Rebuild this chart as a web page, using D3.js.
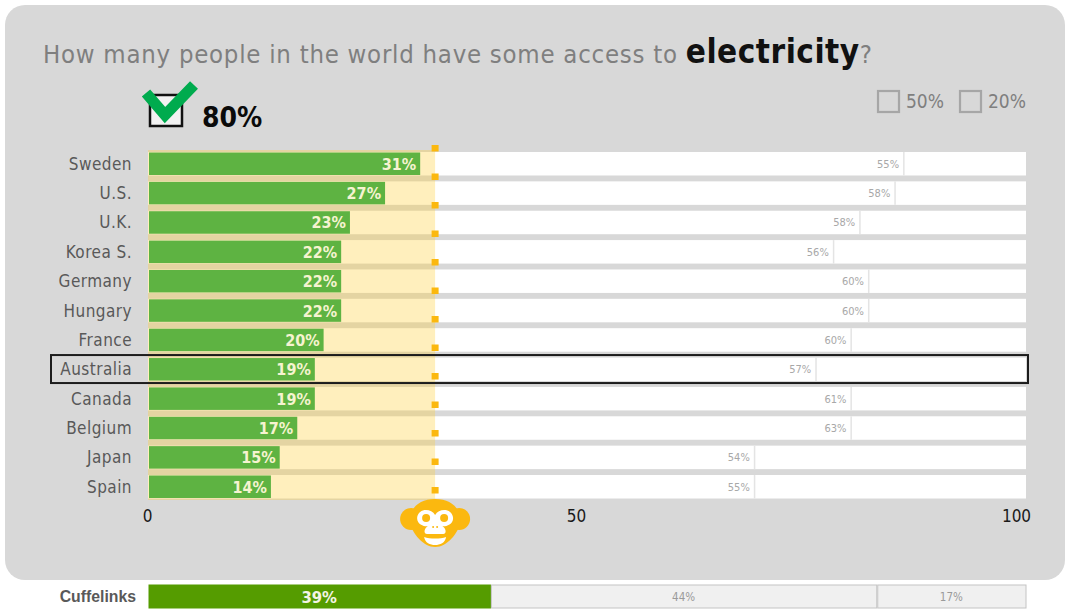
<!DOCTYPE html>
<html><head><meta charset="utf-8">
<script src="https://cdn.jsdelivr.net/npm/d3@7"></script>
<style>
html,body{margin:0;padding:0;background:#fff;overflow:hidden}
svg{display:block}
text{font-family:"DejaVu Sans Condensed","DejaVu Sans",sans-serif;font-stretch:condensed}
</style></head><body>
<svg id="chart" width="1065" height="610"></svg>
<script>
// Survey answers per country
const countries = ["Sweden","U.S.","U.K.","Korea S.","Germany","Hungary","France","Australia","Canada","Belgium","Japan","Spain"];
const correctShare = [31,27,23,22,22,22,20,19,19,17,15,14];
const middleShare = [55,58,58,56,60,60,60,57,61,63,54,55];
const highlighted = "Australia";
const chimpLevel = 32.7;
const guideMarks = d3.range(13);
const axisTicks = [0,50,100];
const summaryName = "Cuffelinks";
const summaryShares = [39,44,17];
const wrongOptions = ["50%","20%"];
const rightOption = "80%";

const svg = d3.select("#chart");
const x = d3.scaleLinear().domain([0,100]).range([148,1026]);
const y = d3.scaleBand().domain(countries).range([152,498.5]).paddingInner(0.2).paddingOuter(0);
const guideY = d3.scalePoint().domain(guideMarks).range([148,490]);
const rows = countries.map((c,i)=>({c,a:correctShare[i],b:middleShare[i]}));

// Panel
svg.append("rect").attr("x",5).attr("y",5).attr("width",1060).attr("height",575).attr("rx",20).attr("fill","#d8d8d8");

// Question
const title = svg.append("text").attr("x",43).attr("y",63).attr("font-size",25.5).attr("letter-spacing",0.75).attr("fill","#7f7f7f");
title.append("tspan").text("How many people in the world have some access to ");
title.append("tspan").text("electricity").attr("font-size",33).attr("font-weight",700).attr("letter-spacing",0.5).attr("fill","#111");
title.append("tspan").text("?");

// Answer options
svg.append("rect").attr("x",150).attr("y",95).attr("width",32).attr("height",31).attr("fill","#f2f2f2").attr("stroke","#111").attr("stroke-width",2.5);
svg.append("path").attr("d",d3.line()([[146,93],[165,115],[194,85]])).attr("fill","none").attr("stroke","#00ab4e").attr("stroke-width",11);
svg.append("text").attr("x",202).attr("y",127).attr("font-size",28).attr("font-weight",700).attr("fill","#0a0a0a").text(rightOption);
const optX = d3.scaleOrdinal().domain(wrongOptions).range([878,960]);
const opts = svg.selectAll(".opt").data(wrongOptions).join("g").attr("class","opt").attr("transform",d=>`translate(${optX(d)},91)`);
opts.append("rect").attr("width",21).attr("height",21).attr("fill","none").attr("stroke","#a6a6a6").attr("stroke-width",2.2);
opts.append("text").attr("x",28).attr("y",17).attr("font-size",19).attr("fill","#7f7f7f").text(d=>d);

// Rows: white track, pale band for the chimp guess, green share on top
svg.selectAll(".track").data(rows).join("rect").attr("class","track")
  .attr("x",x(0)).attr("width",x(100)-x(0)).attr("y",d=>y(d.c)).attr("height",y.bandwidth()).attr("fill","#fff");
svg.selectAll(".mid-end").data(rows).join("rect").attr("class","mid-end")
  .attr("x",d=>x(d.a+d.b)).attr("width",1.5).attr("y",d=>y(d.c)).attr("height",y.bandwidth()).attr("fill","#e4e4e4");
svg.selectAll(".mid-lab").data(rows).join("text").attr("class","mid-lab")
  .attr("x",d=>x(d.a+d.b)-4).attr("y",d=>y(d.c)+y.bandwidth()/2+4).attr("text-anchor","end").attr("font-size",11).attr("fill","#a8a8a8")
  .text(d=>d.b+"%");
svg.append("rect").attr("x",x(0)).attr("y",150).attr("width",x(chimpLevel)-x(0)).attr("height",350).attr("fill","#ffcc33").attr("fill-opacity",0.32);
svg.selectAll(".share").data(rows).join("rect").attr("class","share")
  .attr("x",x(0)+1).attr("width",d=>x(d.a)-x(0)-1).attr("y",d=>y(d.c)+0.5).attr("height",y.bandwidth()-1).attr("fill","#5eb342");
svg.selectAll(".share-lab").data(rows).join("text").attr("class","share-lab")
  .attr("x",d=>x(d.a)-4).attr("y",d=>y(d.c)+y.bandwidth()/2+6).attr("text-anchor","end").attr("font-size",16).attr("font-weight",700).attr("fill","#f6f3d0")
  .text(d=>d.a+"%");
svg.selectAll(".name").data(rows).join("text").attr("class","name")
  .attr("x",132).attr("y",d=>y(d.c)+y.bandwidth()/2+6).attr("text-anchor","end").attr("font-size",17).attr("letter-spacing",0.45).attr("fill","#595959")
  .text(d=>d.c);
svg.selectAll(".dot").data(guideMarks).join("rect").attr("class","dot")
  .attr("x",x(chimpLevel)-3.5).attr("y",d=>guideY(d)-3).attr("width",7).attr("height",6.5).attr("fill","#fbb80f");

// Highlighted row outline
svg.append("rect").attr("x",51).attr("y",y(highlighted)-2.5).attr("width",977).attr("height",y.bandwidth()+4.5).attr("fill","none").attr("stroke","#1c1c1c").attr("stroke-width",2);

// Axis
const tickShift = d3.scaleOrdinal().domain(axisTicks).range([-1,-11,-10]);
const axis = svg.append("g").attr("transform","translate(0,508)").call(d3.axisBottom(x).tickValues(axisTicks).tickSize(0).tickPadding(2));
axis.select(".domain").remove();
axis.selectAll("text").attr("font-size",17).attr("font-family",null).attr("fill","#1a1a1a").attr("dx",d=>tickShift(d));

// Chimp face
const chimp = svg.append("g").attr("transform",`translate(${x(chimpLevel)},520)`);
const gold="#fbb80f";
chimp.append("circle").attr("cx",-24).attr("cy",-1).attr("r",11).attr("fill",gold);
chimp.append("circle").attr("cx",24).attr("cy",-1).attr("r",11).attr("fill",gold);
chimp.append("path").attr("fill",gold).attr("d","M0,-21C18,-21 27,-9 25,3C23,13 12,27 0,27C-12,27 -23,13 -25,3C-27,-9 -18,-21 0,-21Z");
chimp.append("path").attr("fill","#fff").attr("d","M0,-5C4,-12 17,-12 18,-2C18,6 8,7 7,6C11,8 12,14 8,14L-8,14C-12,14 -11,8 -7,6C-8,7 -18,6 -18,-2C-17,-12 -4,-12 0,-5Z");
chimp.append("circle").attr("cx",-9).attr("cy",-2).attr("r",4).attr("fill",gold);
chimp.append("circle").attr("cx",9).attr("cy",-2).attr("r",4).attr("fill",gold);
chimp.append("circle").attr("cx",-2).attr("cy",7).attr("r",1).attr("fill",gold);
chimp.append("circle").attr("cx",2).attr("cy",7).attr("r",1).attr("fill",gold);
chimp.append("path").attr("fill","#fff").attr("d","M-11,17C-5,19 5,19 11,17C10,23 5,25 0,25C-5,25 -10,23 -11,17Z");

// Summary bar
let acc=0;
const segs = summaryShares.map((v,i)=>{const s={v,i,x0:acc};acc+=v;return s;});
svg.append("text").attr("x",136).attr("y",602).attr("text-anchor","end").attr("style","font-family:'Liberation Sans',sans-serif;font-stretch:normal").attr("font-size",15.8).attr("font-weight",700).attr("fill","#595959").text(summaryName);
svg.selectAll(".seg").data(segs).join("rect").attr("class","seg")
  .attr("x",d=>x(d.x0)+1).attr("width",d=>x(d.x0+d.v)-x(d.x0)-1).attr("y",585).attr("height",23)
  .attr("fill",d=>d.i===0?"#559c00":"#f0f0f0").attr("stroke",d=>d.i===0?"#559c00":"#c4c4c4").attr("stroke-width",1);
svg.selectAll(".seg-lab").data(segs).join("text").attr("class","seg-lab")
  .attr("x",d=>x(d.x0+d.v/2)).attr("y",d=>d.i===0?603:601).attr("text-anchor","middle")
  .attr("font-size",d=>d.i===0?16.5:11.5).attr("font-weight",d=>d.i===0?700:400).attr("fill",d=>d.i===0?"#f4f4e4":"#9a9a9a")
  .text(d=>d.v+"%");
</script>
</body></html>
